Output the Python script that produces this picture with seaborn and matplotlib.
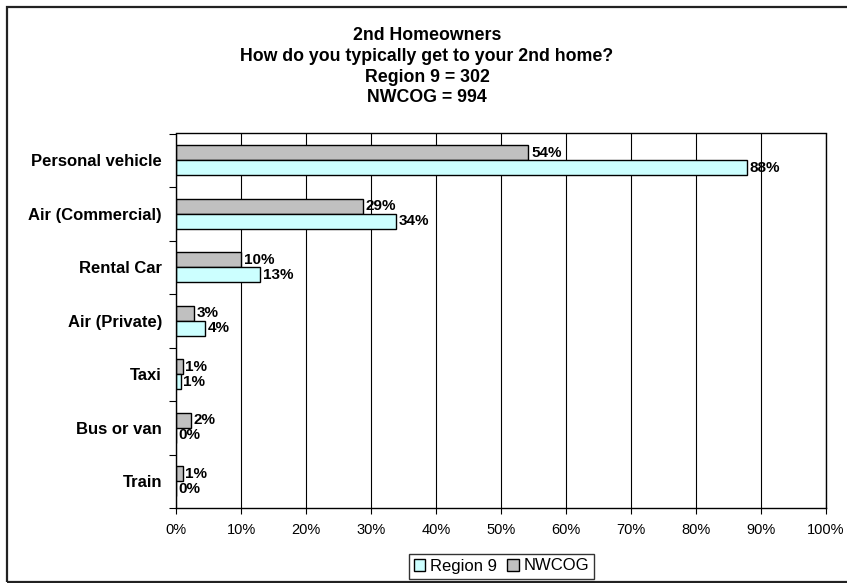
import matplotlib
matplotlib.use("Agg")
import matplotlib.pyplot as plt
from matplotlib.patches import Rectangle, Patch
import seaborn as sns
import pandas as pd

categories = ["Personal vehicle", "Air (Commercial)", "Rental Car", "Air (Private)",
              "Taxi", "Bus or van", "Train"]
region9 = [87.8, 33.8, 12.9, 4.4, 0.7, 0.0, 0.0]
nwcog = [54.2, 28.8, 10.0, 2.7, 1.0, 2.3, 1.0]
x_ticks = [0, 10, 20, 30, 40, 50, 60, 70, 80, 90, 100]
title_lines = ["2nd Homeowners", "How do you typically get to your 2nd home?",
               "Region 9 = 302", "NWCOG = 994"]

df = pd.DataFrame({
    "Category": categories * 2,
    "Value": nwcog + region9,
    "Series": ["NWCOG"] * len(categories) + ["Region 9"] * len(categories),
})

sns.set_theme(style="white")
plt.rcParams["font.family"] = ["Liberation Sans", "DejaVu Sans"]
plt.rcParams.update({"text.color": "black", "xtick.color": "black", "ytick.color": "black",
                     "axes.labelcolor": "black", "axes.edgecolor": "black"})

W, H = 847, 583
fig = plt.figure(figsize=(W / 100, H / 100), dpi=100)
ax = fig.add_axes([176 / W, 1 - 508 / H, 650 / W, (508 - 133.5) / H])

colors = {"NWCOG": "#C0C0C0", "Region 9": "#CCFFFF"}
sns.barplot(data=df, x="Value", y="Category", hue="Series", hue_order=["NWCOG", "Region 9"],
            palette=colors, orient="h", width=0.56, edgecolor="black", linewidth=1.0,
            ax=ax, legend=False, saturation=1)

for cont in ax.containers:
    vals = [b.get_width() for b in cont]
    ax.bar_label(cont, labels=[f"{round(v)}%" for v in vals], padding=2,
                 fontsize=11, fontweight="bold", color="black")

ax.set_xlim(0, 100)
ax.set_xticks(x_ticks)
ax.set_xticklabels([f"{t}%" for t in x_ticks], fontsize=10.5)
ax.set_xlabel("")
ax.set_ylabel("")
ax.set_axisbelow(True)
ax.xaxis.grid(True, color="black", linewidth=0.8)
ax.yaxis.grid(False)
for s in ax.spines.values():
    s.set_color("black")
    s.set_linewidth(1.0)
    s.set_visible(True)

ax.tick_params(axis="x", direction="out", length=4, width=0.8, color="black", pad=7, bottom=True)
ax.tick_params(axis="y", which="major", length=0, pad=10)
ax.set_yticks([i + 0.5 for i in range(-1, len(categories))], minor=True)
ax.tick_params(axis="y", which="minor", direction="out", length=5, width=0.8, color="black", left=True)
for lbl in ax.get_yticklabels():
    lbl.set_fontweight("bold")
    lbl.set_fontsize(12)
    lbl.set_color("black")

fig.text(427 / W, 1 - 27.5 / H, "\n".join(title_lines), ha="center", va="top",
         fontsize=12.75, fontweight="bold", linespacing=1.27, color="black")

handles = [Patch(facecolor=colors["Region 9"], edgecolor="black", linewidth=1.0, label="Region 9"),
           Patch(facecolor=colors["NWCOG"], edgecolor="black", linewidth=1.0, label="NWCOG")]
leg = fig.legend(handles=handles, loc="center", bbox_to_anchor=(501.5 / W, 1 - 566 / H),
                 ncol=2, fontsize=12, frameon=True, fancybox=False, shadow=False,
                 handlelength=0.7, handleheight=0.7, handletextpad=0.3, columnspacing=0.6,
                 borderpad=0.3, borderaxespad=0)
leg.get_frame().set_edgecolor("black")
leg.get_frame().set_linewidth(1.0)

fig.patches.append(Rectangle((7 / W, 1 / H), 1.0, 1 - 8 / H, transform=fig.transFigure,
                             fill=False, edgecolor="#222222", linewidth=1.6, zorder=10))

fig.savefig("out.png", dpi=100)
